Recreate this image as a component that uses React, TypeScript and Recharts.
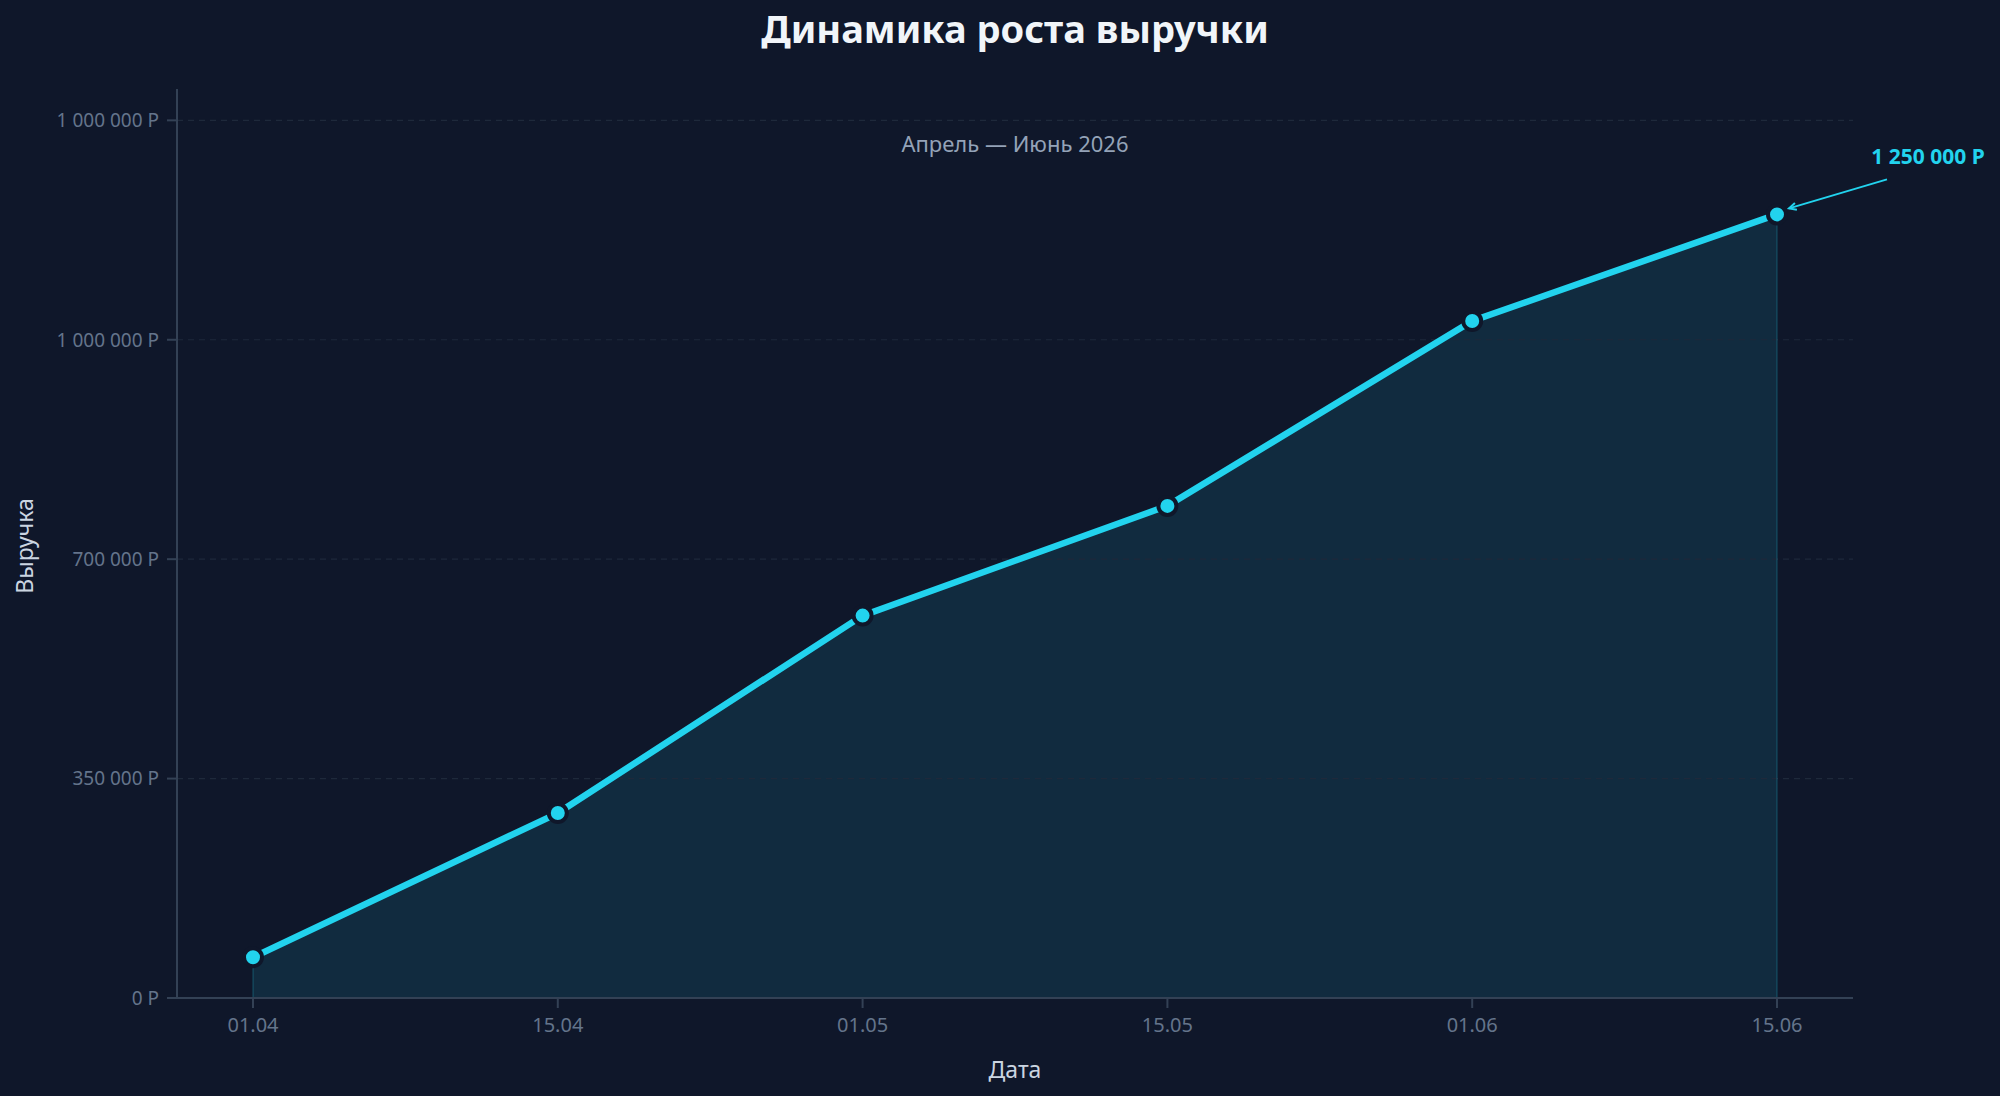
import React from 'react';
import {
  ComposedChart,
  Area,
  Line,
  XAxis,
  YAxis,
  ReferenceLine,
  ReferenceDot,
} from 'recharts';

const dates = ['01.04', '15.04', '01.05', '15.05', '01.06', '15.06'];
const revenue = [65000, 295000, 610000, 785000, 1080000, 1250000];
const yTicks = [0, 350000, 700000, 1050000, 1400000];
const yTickLabels = ['0 Р', '350 000 Р', '700 000 Р', '1 000 000 Р', '1 000 000 Р'];
const yDomainMax = 1450000;
const annotationText = '1 250 000 Р';

const title = 'Динамика роста выручки';
const subtitle = 'Апрель — Июнь 2026';
const xLabel = 'Дата';
const yLabel = 'Выручка';

const data = dates.map((d, i) => ({ date: d, value: revenue[i] }));

const BG = '#0f172a';
const CYAN = '#22d3ee';
const FONT = '"Noto Sans", "DejaVu Sans", sans-serif';

const lastIdx = dates.length - 1;

const AnnotationShape = (props: any) => {
  const { cx, cy } = props;
  if (cx == null || cy == null) return null;
  const x1 = cx + 110;
  const y1 = cy - 35;
  const x2 = cx + 12;
  const y2 = cy - 6;
  const ang = Math.atan2(y1 - y2, x1 - x2);
  const ah = 8;
  const a1 = ang + 0.45;
  const a2 = ang - 0.45;
  return (
    <g>
      <line x1={x1} y1={y1} x2={x2} y2={y2} stroke={CYAN} strokeWidth={2} />
      <polyline
        points={`${x2 + ah * Math.cos(a1)},${y2 + ah * Math.sin(a1)} ${x2},${y2} ${x2 + ah * Math.cos(a2)},${y2 + ah * Math.sin(a2)}`}
        fill="none"
        stroke={CYAN}
        strokeWidth={2}
      />
      <text
        x={cx + 151}
        y={cy - 50}
        textAnchor="middle"
        fill={CYAN}
        fontFamily={FONT}
        fontWeight={700}
        fontSize={21}
      >
        {annotationText}
      </text>
    </g>
  );
};

export default function App() {
  return (
    <div
      style={{
        position: 'absolute',
        left: 0,
        top: 0,
        width: 2000,
        height: 1096,
        background: BG,
        overflow: 'hidden',
      }}
    >
      <ComposedChart
        width={2000}
        height={1096}
        data={data}
        margin={{ top: 89, right: 147, bottom: 48, left: 0 }}
        style={{ fontFamily: FONT }}
      >
        <XAxis
          dataKey="date"
          height={50}
          padding={{ left: 76, right: 76 }}
          axisLine={{ stroke: '#334155', strokeWidth: 2 }}
          tickLine={{ stroke: '#334155', strokeWidth: 2 }}
          tickSize={10}
          tickMargin={10}
          tick={{ fill: '#64748b', fontSize: 20, fontFamily: FONT }}
        />
        <YAxis
          width={177}
          domain={[0, yDomainMax]}
          ticks={yTicks}
          interval={0}
          tickFormatter={(v: number, i: number) => yTickLabels[i]}
          axisLine={{ stroke: '#334155', strokeWidth: 2 }}
          tickLine={{ stroke: '#334155', strokeWidth: 2 }}
          tickSize={10}
          tickMargin={8}
          tick={{ fill: '#64748b', fontSize: 19, fontFamily: FONT }}
        />
        {yTicks
          .filter((t) => t > 0)
          .map((t) => (
            <ReferenceLine
              key={t}
              y={t}
              stroke="#1e293b"
              strokeDasharray="6 5"
              strokeWidth={1.2}
            />
          ))}
        <Area
          dataKey="value"
          type="linear"
          stroke="none"
          fill={CYAN}
          fillOpacity={0.11}
          isAnimationActive={false}
          dot={false}
          activeDot={false}
        />
        <ReferenceLine
          segment={[
            { x: dates[0], y: 0 },
            { x: dates[0], y: revenue[0] },
          ]}
          stroke={CYAN}
          strokeOpacity={0.15}
          strokeWidth={2}
        />
        <ReferenceLine
          segment={[
            { x: dates[lastIdx], y: 0 },
            { x: dates[lastIdx], y: revenue[lastIdx] },
          ]}
          stroke={CYAN}
          strokeOpacity={0.15}
          strokeWidth={2}
        />
        <Line
          dataKey="value"
          type="linear"
          stroke={CYAN}
          strokeWidth={6.5}
          isAnimationActive={false}
          dot={{ r: 9, fill: CYAN, stroke: BG, strokeWidth: 4 }}
          activeDot={false}
        />
        <ReferenceDot
          x={dates[lastIdx]}
          y={revenue[lastIdx]}
          r={0}
          shape={AnnotationShape}
        />
      </ComposedChart>
      <svg
        width={2000}
        height={1096}
        style={{ position: 'absolute', left: 0, top: 0, pointerEvents: 'none' }}
      >
        <text
          x={1015}
          y={43}
          textAnchor="middle"
          fill="#f1f5f9"
          fontFamily={FONT}
          fontWeight={700}
          fontSize={38}
        >
          {title}
        </text>
        <text
          x={1015}
          y={152}
          textAnchor="middle"
          fill="#94a3b8"
          fontFamily={FONT}
          fontSize={22}
        >
          {subtitle}
        </text>
        <text
          x={1015}
          y={1078}
          textAnchor="middle"
          fill="#cbd5e1"
          fontFamily={FONT}
          fontSize={23}
        >
          {xLabel}
        </text>
        <text
          x={33}
          y={546}
          textAnchor="middle"
          fill="#cbd5e1"
          fontFamily={FONT}
          fontSize={23}
          transform="rotate(-90 33 546)"
        >
          {yLabel}
        </text>
      </svg>
    </div>
  );
}
